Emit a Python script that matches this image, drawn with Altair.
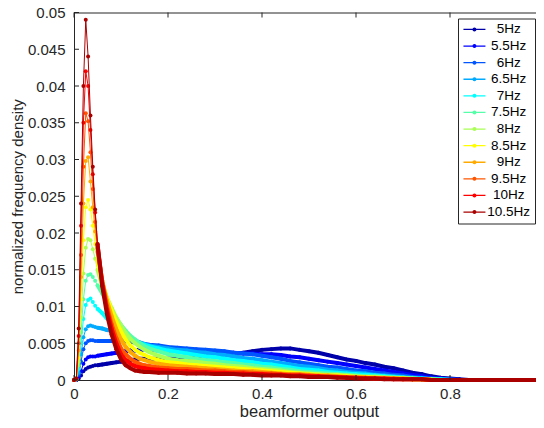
import altair as alt
import pandas as pd

# x grid (beamformer output)
X = [0, 0.005, 0.01, 0.015, 0.02, 0.025, 0.03, 0.035, 0.04, 0.045, 0.05,
     0.06, 0.07, 0.08, 0.09, 0.10, 0.11, 0.12, 0.13, 0.14, 0.15, 0.16,
     0.18, 0.20,
     0.22, 0.24, 0.26, 0.28, 0.30, 0.32, 0.34, 0.36, 0.38, 0.40,
     0.42, 0.44, 0.46, 0.48, 0.50, 0.52, 0.54, 0.56, 0.58, 0.60,
     0.62, 0.64, 0.66, 0.68, 0.70, 0.72, 0.74, 0.76, 0.78, 0.80,
     0.82, 0.84, 0.86, 0.88, 0.90, 0.92, 0.94, 0.96, 0.98, 1.00]

F5_0 = [0, 0, 0.0002, 0.0006, 0.0012, 0.0015, 0.0017, 0.0018, 0.0019, 0.0020, 0.0020,
        0.0021, 0.0022, 0.0023, 0.0024, 0.0025, 0.0026, 0.0027, 0.0028, 0.0029, 0.0029, 0.0029,
        0.0029, 0.0029,
        0.0030, 0.0030, 0.0031, 0.0032, 0.0033, 0.0034, 0.0035, 0.0037, 0.0039, 0.0041,
        0.0042, 0.0043, 0.0043, 0.0041, 0.0039, 0.0037, 0.0034, 0.0031, 0.0028, 0.0026,
        0.0023, 0.0021, 0.0018, 0.0016, 0.0013, 0.0010, 0.0008, 0.0005, 0.0003, 0.0002,
        0.0001, 0, 0, 0, 0, 0, 0, 0, 0, 0]
F5_5 = [0, 0, 0.0004, 0.0012, 0.0022, 0.0028, 0.0031, 0.0032, 0.0032, 0.0032, 0.0033,
        0.0034, 0.0035, 0.0036, 0.0037, 0.0038, 0.0039, 0.0040, 0.0040, 0.0041, 0.0041, 0.0041,
        0.0040, 0.0040,
        0.0039, 0.0039, 0.0038, 0.0038, 0.0038, 0.0037, 0.0037, 0.0036, 0.0036, 0.0035,
        0.0035, 0.0034, 0.0032, 0.0031, 0.0029, 0.0027, 0.0025, 0.0023, 0.0021, 0.0019,
        0.0017, 0.0015, 0.0013, 0.0011, 0.0009, 0.0007, 0.0005, 0.0003, 0.0002, 0.0001,
        0, 0, 0, 0, 0, 0, 0, 0, 0, 0]
F6_0 = [0, 0.0001, 0.0007, 0.0025, 0.0042, 0.0050, 0.0053, 0.0054, 0.0054, 0.0053, 0.0053,
        0.0053, 0.0053, 0.0053, 0.0054, 0.0054, 0.0053, 0.0052, 0.0051, 0.0050, 0.0049, 0.0048,
        0.0047, 0.0045,
        0.0044, 0.0043, 0.0042, 0.0041, 0.0040, 0.0039, 0.0037, 0.0036, 0.0035, 0.0033,
        0.0031, 0.0029, 0.0026, 0.0024, 0.0022, 0.0020, 0.0018, 0.0017, 0.0015, 0.0013,
        0.0012, 0.0010, 0.0009, 0.0007, 0.0006, 0.0004, 0.0003, 0.0002, 0.0001, 0.0001,
        0, 0, 0, 0, 0, 0, 0, 0, 0, 0]
F6_5 = [0, 0.0001, 0.0010, 0.0035, 0.0058, 0.0069, 0.0073, 0.0074, 0.0073, 0.0072, 0.0071,
        0.0070, 0.0068, 0.0067, 0.0065, 0.0063, 0.0060, 0.0057, 0.0054, 0.0051, 0.0049, 0.0047,
        0.0045, 0.0043,
        0.0041, 0.0040, 0.0038, 0.0037, 0.0035, 0.0034, 0.0032, 0.0030, 0.0029, 0.0027,
        0.0025, 0.0023, 0.0021, 0.0019, 0.0018, 0.0016, 0.0014, 0.0013, 0.0011, 0.0010,
        0.0009, 0.0007, 0.0006, 0.0005, 0.0004, 0.0003, 0.0002, 0.0001, 0.0001, 0,
        0, 0, 0, 0, 0, 0, 0, 0, 0, 0]
F7_0 = [0, 0.0001, 0.0015, 0.0050, 0.0083, 0.0102, 0.0109, 0.0111, 0.0106, 0.0101, 0.0097,
        0.0091, 0.0084, 0.0078, 0.0072, 0.0066, 0.0061, 0.0056, 0.0053, 0.0050, 0.0048, 0.0046,
        0.0043, 0.0040,
        0.0038, 0.0036, 0.0034, 0.0032, 0.0031, 0.0029, 0.0027, 0.0026, 0.0024, 0.0022,
        0.0021, 0.0019, 0.0017, 0.0015, 0.0014, 0.0013, 0.0011, 0.0010, 0.0009, 0.0008,
        0.0007, 0.0006, 0.0005, 0.0004, 0.0003, 0.0002, 0.0002, 0.0001, 0.0001, 0,
        0, 0, 0, 0, 0, 0, 0, 0, 0, 0]
F7_5 = [0, 0.0001, 0.0020, 0.0065, 0.0110, 0.0135, 0.0143, 0.0144, 0.0140, 0.0135, 0.0129,
        0.0118, 0.0106, 0.0094, 0.0084, 0.0075, 0.0067, 0.0060, 0.0055, 0.0050, 0.0046, 0.0043,
        0.0039, 0.0035,
        0.0033, 0.0031, 0.0029, 0.0027, 0.0026, 0.0024, 0.0023, 0.0021, 0.0020, 0.0018,
        0.0017, 0.0015, 0.0014, 0.0012, 0.0011, 0.0010, 0.0009, 0.0008, 0.0007, 0.0006,
        0.0005, 0.0005, 0.0004, 0.0003, 0.0003, 0.0002, 0.0001, 0.0001, 0, 0,
        0, 0, 0, 0, 0, 0, 0, 0, 0, 0]
F8_0 = [0, 0.0001, 0.0025, 0.0085, 0.0145, 0.0180, 0.0192, 0.0190, 0.0178, 0.0165, 0.0150,
        0.0128, 0.0112, 0.0098, 0.0085, 0.0074, 0.0064, 0.0056, 0.0050, 0.0045, 0.0041, 0.0038,
        0.0033, 0.0029,
        0.0027, 0.0026, 0.0025, 0.0023, 0.0022, 0.0020, 0.0019, 0.0018, 0.0016, 0.0015,
        0.0014, 0.0013, 0.0011, 0.0010, 0.0009, 0.0008, 0.0007, 0.0007, 0.0006, 0.0005,
        0.0004, 0.0004, 0.0003, 0.0003, 0.0002, 0.0002, 0.0001, 0.0001, 0, 0,
        0, 0, 0, 0, 0, 0, 0, 0, 0, 0]
F8_5 = [0, 0.0001, 0.0030, 0.0110, 0.0190, 0.0235, 0.0245, 0.0232, 0.0210, 0.0185, 0.0163,
        0.0132, 0.0112, 0.0095, 0.0079, 0.0066, 0.0055, 0.0047, 0.0041, 0.0037, 0.0034, 0.0031,
        0.0027, 0.0024,
        0.0023, 0.0021, 0.0020, 0.0019, 0.0018, 0.0017, 0.0016, 0.0015, 0.0014, 0.0013,
        0.0012, 0.0011, 0.0010, 0.0009, 0.0008, 0.0007, 0.0006, 0.0006, 0.0005, 0.0004,
        0.0004, 0.0003, 0.0003, 0.0002, 0.0002, 0.0001, 0.0001, 0, 0, 0,
        0, 0, 0, 0, 0, 0, 0, 0, 0, 0]
F9_0 = [0, 0.0001, 0.0040, 0.0140, 0.0240, 0.0298, 0.0303, 0.0270, 0.0235, 0.0202, 0.0175,
        0.0135, 0.0108, 0.0087, 0.0069, 0.0055, 0.0045, 0.0038, 0.0033, 0.0029, 0.0027, 0.0025,
        0.0022, 0.0020,
        0.0019, 0.0018, 0.0017, 0.0016, 0.0015, 0.0014, 0.0013, 0.0012, 0.0012, 0.0011,
        0.0010, 0.0009, 0.0008, 0.0008, 0.0007, 0.0006, 0.0006, 0.0005, 0.0004, 0.0004,
        0.0003, 0.0003, 0.0002, 0.0002, 0.0002, 0.0001, 0.0001, 0, 0, 0,
        0, 0, 0, 0, 0, 0, 0, 0, 0, 0]
F9_5 = [0, 0.0002, 0.0050, 0.0170, 0.0290, 0.0363, 0.0352, 0.0310, 0.0260, 0.0215, 0.0180,
        0.0135, 0.0101, 0.0076, 0.0057, 0.0043, 0.0035, 0.0029, 0.0025, 0.0022, 0.0020, 0.0019,
        0.0017, 0.0016,
        0.0015, 0.0015, 0.0014, 0.0013, 0.0013, 0.0012, 0.0011, 0.0011, 0.0010, 0.0009,
        0.0009, 0.0008, 0.0007, 0.0007, 0.0006, 0.0005, 0.0005, 0.0004, 0.0004, 0.0003,
        0.0003, 0.0002, 0.0002, 0.0002, 0.0001, 0.0001, 0.0001, 0, 0, 0,
        0, 0, 0, 0, 0, 0, 0, 0, 0, 0]
F10_0 = [0, 0.0002, 0.0060, 0.0210, 0.0350, 0.0420, 0.0400, 0.0340, 0.0280, 0.0228, 0.0185,
         0.0132, 0.0096, 0.0070, 0.0050, 0.0035, 0.0027, 0.0022, 0.0019, 0.0017, 0.0016, 0.0015,
         0.0014, 0.0013,
         0.0012, 0.0012, 0.0011, 0.0011, 0.0010, 0.0010, 0.0009, 0.0009, 0.0008, 0.0008,
         0.0007, 0.0007, 0.0006, 0.0006, 0.0005, 0.0005, 0.0004, 0.0004, 0.0003, 0.0003,
         0.0002, 0.0002, 0.0002, 0.0001, 0.0001, 0.0001, 0.0001, 0, 0, 0,
         0, 0, 0, 0, 0, 0, 0, 0, 0, 0]
F10_5 = [0, 0.0002, 0.0070, 0.0240, 0.0400, 0.0490, 0.0440, 0.0360, 0.0290, 0.0232, 0.0185,
         0.0128, 0.0090, 0.0062, 0.0042, 0.0028, 0.0020, 0.0016, 0.0013, 0.0012, 0.0011, 0.0011,
         0.0010, 0.0010,
         0.0010, 0.0009, 0.0009, 0.0009, 0.0008, 0.0008, 0.0008, 0.0007, 0.0007, 0.0006,
         0.0006, 0.0006, 0.0005, 0.0005, 0.0004, 0.0004, 0.0004, 0.0003, 0.0003, 0.0002,
         0.0002, 0.0002, 0.0001, 0.0001, 0.0001, 0.0001, 0.0001, 0, 0, 0,
         0, 0, 0, 0, 0, 0, 0, 0, 0, 0]

SERIES = ["5Hz", "5.5Hz", "6Hz", "6.5Hz", "7Hz", "7.5Hz", "8Hz", "8.5Hz",
          "9Hz", "9.5Hz", "10Hz", "10.5Hz"]
VALUES = [F5_0, F5_5, F6_0, F6_5, F7_0, F7_5, F8_0, F8_5, F9_0, F9_5, F10_0, F10_5]
COLORS = ["#0000AA", "#0000FF", "#0055FF", "#00AAFF", "#00FFFF", "#55FFAA",
          "#AAFF55", "#FFFF00", "#FFAA00", "#FF5500", "#FF0000", "#AA0000"]
X_TICKS = [0, 0.2, 0.4, 0.6, 0.8, 1]
Y_TICKS = [0, 0.005, 0.01, 0.015, 0.02, 0.025, 0.03, 0.035, 0.04, 0.045, 0.05]

rows = []
for name, vals in zip(SERIES, VALUES):
    for xv, yv in zip(X, vals):
        rows.append({"x": xv, "v": yv, "f": name})
df = pd.DataFrame(rows)

W, H = 470, 367.5
AX = "#262626"
FONT = "Liberation Sans"

xscale = alt.Scale(domain=[0, 1], nice=False, zero=False)
yscale = alt.Scale(domain=[0, 0.05], nice=False, zero=False)
xaxis = alt.Axis(values=X_TICKS, format="~g", title="beamformer output",
                 labelPadding=6, titlePadding=2, labelFlush=False,
                 titleFontSize=16.5)
yaxis = alt.Axis(values=Y_TICKS, format="~g", title="normalized frequency density",
                 labelPadding=9, titlePadding=2, labelFlush=False,
                 titleFontSize=15)
xenc = alt.X("x:Q", scale=xscale, axis=xaxis)
yenc = alt.Y("v:Q", scale=yscale, axis=yaxis)
cscale = alt.Scale(domain=SERIES, range=COLORS)

LEG_PATH = ("M-1,-0.12H3V0.12H-1Z "
            "M0.64,0A0.36,0.36 0 1,1 1.36,0A0.36,0.36 0 1,1 0.64,0Z")
legend = alt.Legend(title=None, orient="none", legendX=384, legendY=6,
                    symbolType=LEG_PATH, symbolSize=121, symbolStrokeWidth=0,
                    symbolOpacity=1, labelFont=FONT, labelFontSize=13.5,
                    labelColor="#000000", labelAlign="center", labelOffset=33,
                    rowPadding=1.6, padding=4.2, strokeColor=AX, fillColor="white")

layers = []
for name, col in zip(SERIES, COLORS):
    sel = f"datum.f == '{name}'"
    thin = alt.Chart().mark_line(strokeWidth=1, opacity=1, color=col).encode(
        x=xenc, y=yenc
    ).transform_filter(sel)
    thick = alt.Chart().mark_line(strokeWidth=4, opacity=1, color=col).encode(
        x=xenc, y=yenc
    ).transform_filter(sel + " && datum.x >= 0.05")
    pts = alt.Chart().mark_point(filled=True, size=16, opacity=1, strokeWidth=0).encode(
        x=xenc, y=yenc, color=alt.Color("f:N", scale=cscale, legend=legend)
    ).transform_filter(sel)
    layers += [thin, thick, pts]

xt = pd.DataFrame({"t": X_TICKS})
yt = pd.DataFrame({"t": Y_TICKS})
tx = alt.X("t:Q", scale=xscale, axis=xaxis)
ty = alt.Y("t:Q", scale=yscale, axis=yaxis)
tick_bottom = alt.Chart(xt).mark_rule(color=AX, strokeWidth=1).encode(
    x=tx, y=alt.value(H), y2=alt.value(H - 5))
tick_top = alt.Chart(xt).mark_rule(color=AX, strokeWidth=1).encode(
    x=tx, y=alt.value(0), y2=alt.value(5))
tick_left = alt.Chart(yt).mark_rule(color=AX, strokeWidth=1).encode(
    y=ty, x=alt.value(0), x2=alt.value(5))
tick_right = alt.Chart(yt).mark_rule(color=AX, strokeWidth=1).encode(
    y=ty, x=alt.value(W), x2=alt.value(W - 5))

chart = alt.layer(*layers, tick_bottom, tick_top, tick_left, tick_right, data=df).properties(
    width=W, height=H,
    autosize=alt.AutoSizeParams(type="none"),
    padding={"left": 66, "top": 4.5, "right": -8, "bottom": 40},
    background="white",
).configure_view(
    stroke=AX, strokeWidth=1
).configure_axis(
    domain=False, ticks=False, grid=False,
    labelFont=FONT, labelFontSize=15, labelColor=AX,
    titleFont=FONT, titleFontWeight="normal", titleColor=AX,
)

chart.save("out.html", embed_options={"renderer": "svg", "actions": False})
